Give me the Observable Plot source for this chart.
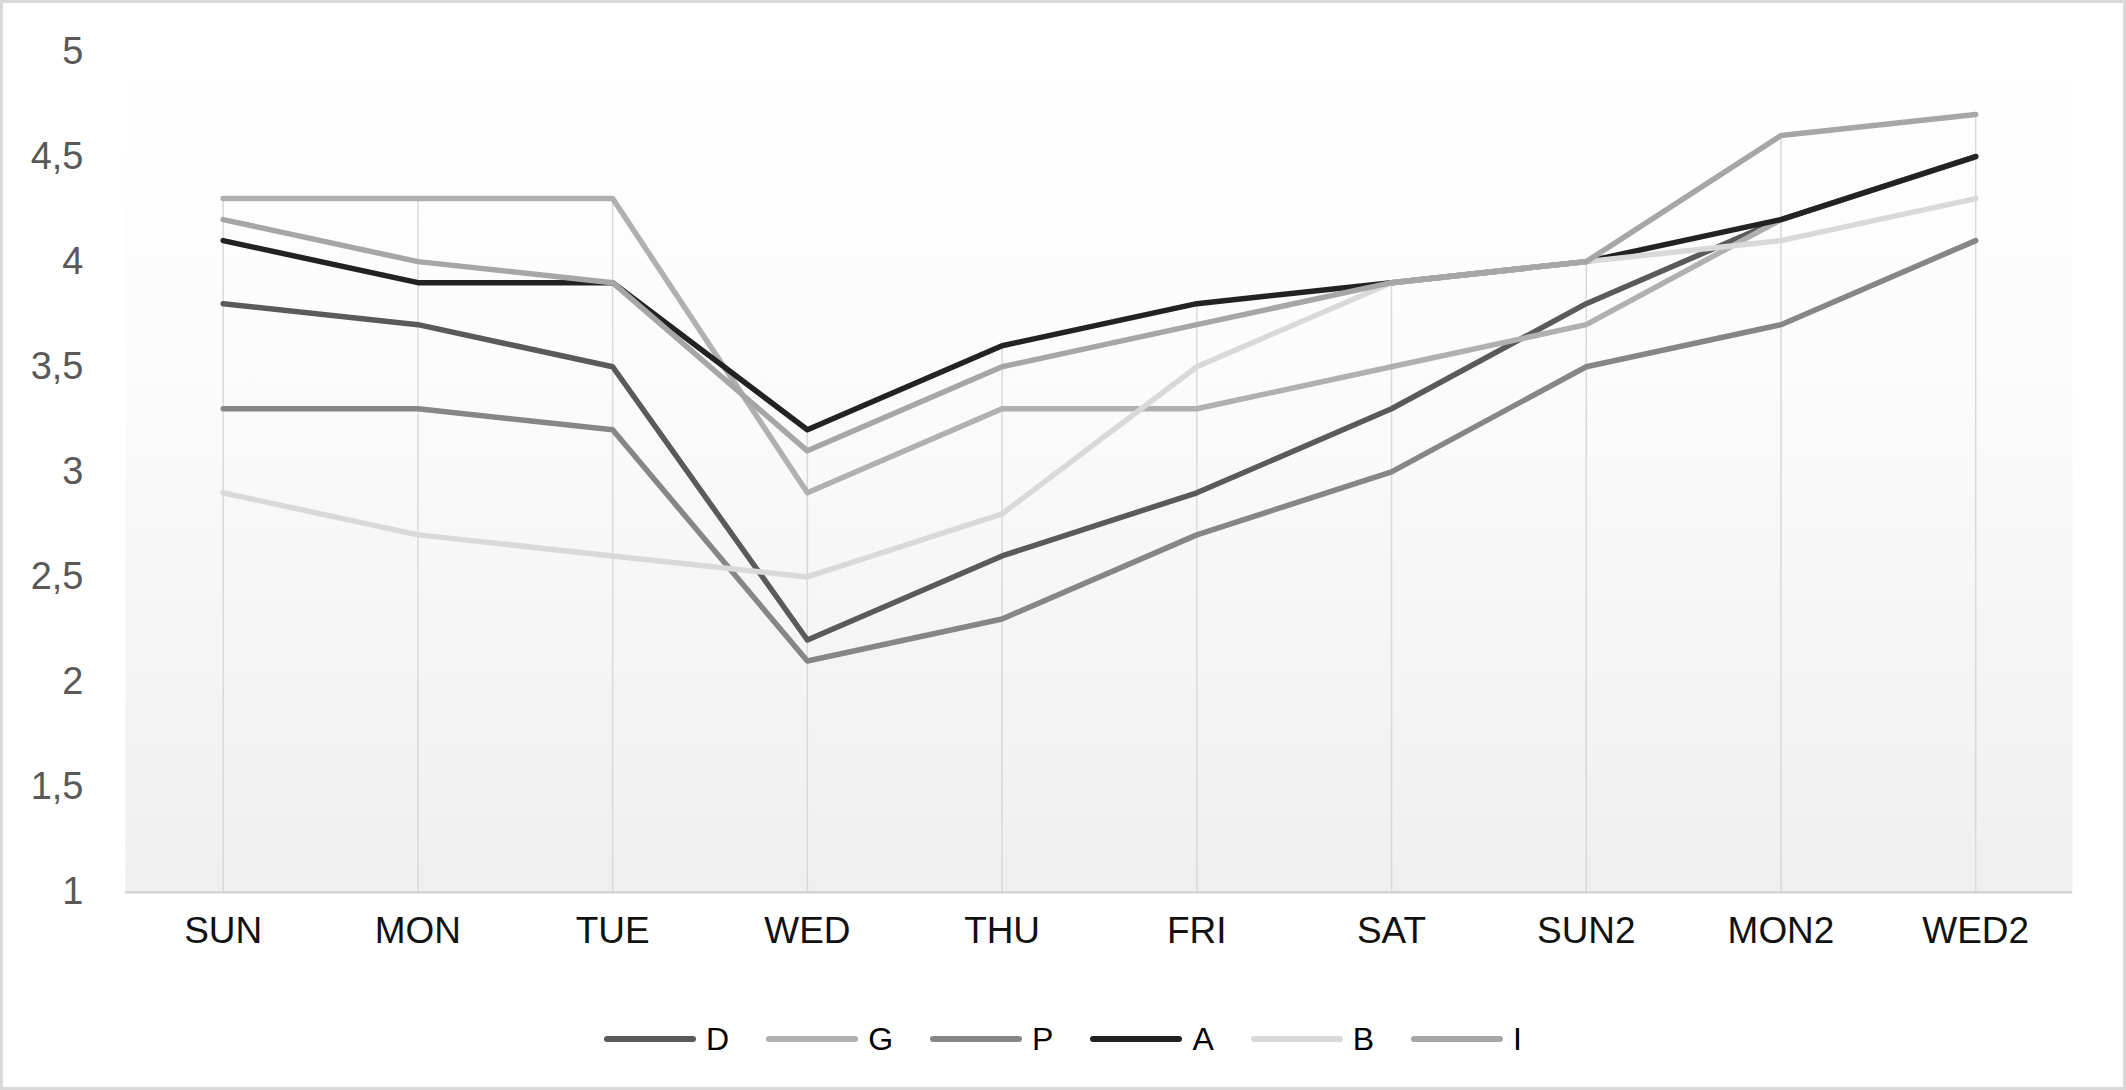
<!DOCTYPE html>
<html>
<head>
<meta charset="utf-8">
<script src="https://cdn.jsdelivr.net/npm/d3@7"></script>
<script src="https://cdn.jsdelivr.net/npm/@observablehq/plot@0.6"></script>
<style>
  html, body { margin: 0; padding: 0; background: #fff; }
  #chart {
    position: relative; width: 2126px; height: 1090px; box-sizing: border-box;
    border: 3px solid #d9d9d9; background: #fff; overflow: hidden;
    font-family: 'Liberation Sans Narrow', 'Liberation Sans', Arial, sans-serif;
  }
  #plot { position: absolute; left: -3px; top: -3px; }
  #legend {
    position: absolute; left: 0; right: 0; top: 1016px; height: 40px;
    display: flex; justify-content: center; align-items: center; gap: 37px;
    font-size: 32px; color: #000;
  }
  .item { display: flex; align-items: center; }
  .swatch { width: 92px; height: 6px; border-radius: 3px; margin-right: 10px; }
</style>
</head>
<body>
<div id="chart"><div id="plot"></div><div id="legend"></div></div>
<script>
const days = ["SUN", "MON", "TUE", "WED", "THU", "FRI", "SAT", "SUN2", "MON2", "WED2"];
const seriesNames = ["D", "G", "P", "A", "B", "I"];
const D = [3.8, 3.7, 3.5, 2.2, 2.6, 2.9, 3.3, 3.8, 4.2, 4.5];
const G = [4.3, 4.3, 4.3, 2.9, 3.3, 3.3, 3.5, 3.7, 4.2, 4.5];
const P = [3.3, 3.3, 3.2, 2.1, 2.3, 2.7, 3.0, 3.5, 3.7, 4.1];
const A = [4.1, 3.9, 3.9, 3.2, 3.6, 3.8, 3.9, 4.0, 4.2, 4.5];
const B = [2.9, 2.7, 2.6, 2.5, 2.8, 3.5, 3.9, 4.0, 4.1, 4.3];
const I = [4.2, 4.0, 3.9, 3.1, 3.5, 3.7, 3.9, 4.0, 4.6, 4.7];
const yTicks = [1, 1.5, 2, 2.5, 3, 3.5, 4, 4.5, 5];

const seriesValues = [D, G, P, A, B, I];
const colors = ["#5a5a5a", "#b0b0b0", "#868686", "#222222", "#d9d9d9", "#a6a6a6"];

const data = seriesNames.flatMap((s, k) =>
  seriesValues[k].map((v, i) => ({series: s, day: days[i], value: v})));

// drop lines: from the axis up to the highest value in each category
const dayMax = days.map((d, i) => ({day: d, max: d3.max(seriesValues, s => s[i])}));

const chart = Plot.plot({
  width: 2126,
  height: 980,
  marginLeft: 125,
  marginRight: 51,
  marginTop: 51,
  marginBottom: 87,
  style: {
    fontFamily: "'Liberation Sans Narrow', 'Liberation Sans', Arial, sans-serif",
    background: "transparent",
    overflow: "visible"
  },
  x: {type: "point", domain: days, padding: 0.5, label: null},
  y: {domain: [1, 5], label: null},
  color: {domain: seriesNames, range: colors},
  marks: [
    Plot.frame({fill: "url(#bg)", stroke: "none"}),
    Plot.ruleX(dayMax, {x: "day", y1: 1, y2: "max", stroke: "#d9d9d9", strokeWidth: 1.5}),
    Plot.ruleY([1], {stroke: "#d4d4d4", strokeWidth: 2.5}),
    Plot.lineY(data, {
      x: "day", y: "value", z: "series", stroke: "series",
      strokeWidth: 5.5, strokeLinejoin: "round", strokeLinecap: "round"
    }),
    Plot.axisX({tickSize: 0, tickPadding: 25, fontSize: 37, color: "#111", label: null}),
    Plot.axisY({
      ticks: yTicks, tickSize: 0, tickPadding: 42, fontSize: 38, color: "#595959", label: null,
      tickFormat: d => String(d).replace(".", ",")
    })
  ]
});

chart.insertAdjacentHTML("afterbegin",
  `<defs><linearGradient id="bg" x1="0" y1="0" x2="0" y2="1">
     <stop offset="0" stop-color="#ffffff"/>
     <stop offset="0.35" stop-color="#fcfcfc"/>
     <stop offset="1" stop-color="#efefef"/>
   </linearGradient></defs>`);

document.getElementById("plot").appendChild(chart);

const legend = document.getElementById("legend");
seriesNames.forEach((s, k) => {
  const item = document.createElement("div");
  item.className = "item";
  const sw = document.createElement("div");
  sw.className = "swatch";
  sw.style.background = colors[k];
  const lab = document.createElement("span");
  lab.textContent = s;
  item.appendChild(sw);
  item.appendChild(lab);
  legend.appendChild(item);
});
</script>
</body>
</html>
